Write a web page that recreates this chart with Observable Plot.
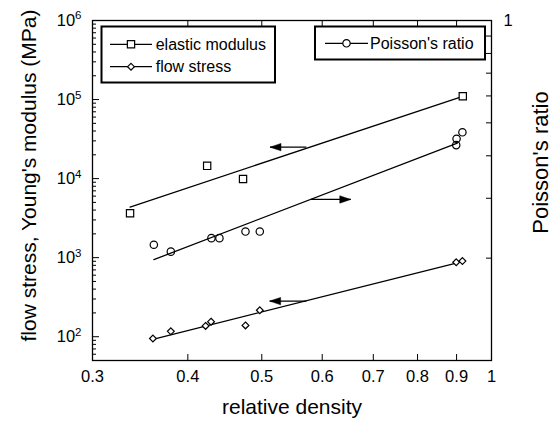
<!DOCTYPE html>
<html><head><meta charset="utf-8">
<script src="https://cdn.jsdelivr.net/npm/d3@7"></script>
<script src="https://cdn.jsdelivr.net/npm/@observablehq/plot@0.6"></script>
<style>body{margin:0;background:#fff} #chart{position:relative;width:553px;height:421px}</style>
</head><body><div id="chart"></div>
<script>
// ---- data ----
const relDensityE = [0.336, 0.424, 0.4725, 0.917];
const elasticModulus = [3650, 14500, 9900, 110000];

const relDensityFlow = [0.360, 0.380, 0.422, 0.429, 0.476, 0.497, 0.899, 0.916];
const flowStress = [95, 117, 137, 155, 139, 216, 875, 905];

const relDensityNu = [0.361, 0.380, 0.4295, 0.440, 0.476, 0.497, 0.899, 0.900, 0.916];
const poissonRatio = [0.219, 0.209, 0.229, 0.229, 0.2395, 0.2395, 0.430, 0.449, 0.469];

// fitted power-law lines (end points)
const fitXE = [0.336, 0.917], fitE = [4370, 110000];
const fitXFlow = [0.360, 0.899], fitFlow = [92.7, 855];
const fitXNu = [0.361, 0.902], fitNu = [0.198, 0.436];

// axis-indicating arrows
const arrowFromX = [0.572, 0.580, 0.572];
const arrowToX = [0.5125, 0.654, 0.512];
const arrowValue = [25000, 0.2976, 282];
const arrowAxis = ["left", "right", "left"];

// ticks
const xTickLabels = [0.3, 0.4, 0.5, 0.6, 0.7, 0.8, 0.9, 1];
const xInnerTicks = [0.4, 0.5, 0.6, 0.7, 0.8, 0.9];
const leftMajor = [1e2, 1e3, 1e4, 1e5, 1e6];
const poissonTicks = [0.1, 0.2, 0.3, 0.4, 0.5, 0.6, 0.7, 0.8, 0.9, 1];
const poissonLabels = [0.1, 1];

const Y_MIN = 50, Y_MAX = 1e6;
const nuToLeft = nu => Math.pow(10, Math.log10(Y_MIN) + (Math.log10(nu) + 1) * Math.log10(Y_MAX / Y_MIN));
const leftToNu = v => Math.pow(10, (Math.log10(v) - Math.log10(Y_MIN)) / Math.log10(Y_MAX / Y_MIN) - 1);

const leftMinor = d3.scaleLog().domain([Y_MIN, Y_MAX]).ticks().filter(d => !leftMajor.includes(d));

// ---- tables ----
const eData = relDensityE.map((x, i) => ({x, y: elasticModulus[i]}));
const fData = relDensityFlow.map((x, i) => ({x, y: flowStress[i]}));
const nData = relDensityNu.map((x, i) => ({x, y: nuToLeft(poissonRatio[i])}));
const eFit = fitXE.map((x, i) => ({x, y: fitE[i]}));
const fFit = fitXFlow.map((x, i) => ({x, y: fitFlow[i]}));
const nFit = fitXNu.map((x, i) => ({x, y: nuToLeft(fitNu[i])}));
const arrows = arrowFromX.map((x1, i) => ({
  x1, x2: arrowToX[i],
  y: arrowAxis[i] === "left" ? arrowValue[i] : nuToLeft(arrowValue[i]),
  dir: arrowToX[i] < x1 ? "left" : "right"
}));

// ---- symbols ----
const diamondSym = {draw(ctx, size) {const r = Math.sqrt(size / Math.PI); ctx.moveTo(0, -r); ctx.lineTo(r, 0); ctx.lineTo(0, r); ctx.lineTo(-r, 0); ctx.closePath();}};
const headLeft = {draw(ctx) {ctx.moveTo(0, 0); ctx.lineTo(11, -3.7); ctx.lineTo(11, 3.7); ctx.closePath();}};
const headRight = {draw(ctx) {ctx.moveTo(0, 0); ctx.lineTo(-11, -3.7); ctx.lineTo(-11, 3.7); ctx.closePath();}};

const FONT = "'Liberation Sans', Arial, Helvetica, sans-serif";

const chart = Plot.plot({
  width: 553, height: 421,
  marginLeft: 92, marginRight: 62, marginTop: 20, marginBottom: 61,
  x: {type: "log", domain: [0.3, 1]},
  y: {type: "log", domain: [Y_MIN, Y_MAX]},
  style: {fontFamily: FONT, fontSize: "16px", color: "black", background: "white", overflow: "visible"},
  marks: [
    // inward ticks
    Plot.tickY(leftMinor, {y: d => d, insetRight: 395, stroke: "black", strokeWidth: 1}),
    Plot.tickY(leftMajor, {y: d => d, insetRight: 392, stroke: "black", strokeWidth: 1}),
    Plot.tickY(poissonTicks.map(nuToLeft), {y: d => d, insetLeft: 394, stroke: "black", strokeWidth: 1}),
    Plot.tickX(xInnerTicks, {x: d => d, insetTop: 334, stroke: "black", strokeWidth: 1}),
    Plot.tickX(xInnerTicks, {x: d => d, insetBottom: 334, stroke: "black", strokeWidth: 1}),
    Plot.frame({stroke: "black", strokeWidth: 1.3}),
    // axes labels
    Plot.axisX({ticks: xTickLabels, tickFormat: d => String(d), tickSize: 0, tickPadding: 10, label: null, fontSize: 16.5}),
    Plot.axisY({ticks: leftMajor, tickFormat: d => "10^" + Math.round(Math.log10(d)), tickSize: 0, tickPadding: 11, label: null, fontSize: 16.5}),
    Plot.axisY({anchor: "right", ticks: poissonLabels.map(nuToLeft), tickFormat: d => String(+leftToNu(d).toFixed(1)), tickSize: 0, tickPadding: 12, label: null, fontSize: 16.5}),
    // axis titles
    Plot.text(["relative density"], {text: d => d, frameAnchor: "bottom", dy: 53, fontSize: 21}),
    Plot.text(["flow stress, Young's modulus (MPa)"], {text: d => d, frameAnchor: "left", textAnchor: "middle", rotate: -90, dx: -63, dy: -15, fontSize: 21}),
    Plot.text(["Poisson's ratio"], {text: d => d, frameAnchor: "right", textAnchor: "middle", rotate: -90, dx: 49, dy: -28, fontSize: 22}),
    // fit lines
    Plot.line(eFit, {x: "x", y: "y", stroke: "black", strokeWidth: 1.3}),
    Plot.line(fFit, {x: "x", y: "y", stroke: "black", strokeWidth: 1.3}),
    Plot.line(nFit, {x: "x", y: "y", stroke: "black", strokeWidth: 1.3}),
    // data points
    Plot.dot(eData, {x: "x", y: "y", symbol: "square", r: 4.1, stroke: "black", fill: "white", strokeWidth: 1.2}),
    Plot.dot(nData, {x: "x", y: "y", symbol: "circle", r: 3.7, stroke: "black", fill: "none", strokeWidth: 1.2}),
    Plot.dot(fData, {x: "x", y: "y", symbol: diamondSym, r: 3.4, stroke: "black", fill: "white", strokeWidth: 1.2}),
    // arrows
    Plot.link(arrows, {x1: "x1", x2: "x2", y1: "y", y2: "y", stroke: "black", strokeWidth: 1.3}),
    Plot.dot(arrows.filter(d => d.dir === "left"), {x: "x2", y: "y", symbol: headLeft, fill: "black", stroke: "black", strokeWidth: 0.5}),
    Plot.dot(arrows.filter(d => d.dir === "right"), {x: "x2", y: "y", symbol: headRight, fill: "black", stroke: "black", strokeWidth: 0.5})
  ]
});

const svg = d3.select(chart);
// superscript exponents on the left axis
svg.selectAll("text").each(function() {
  const t = d3.select(this);
  const s = t.text();
  if (s.startsWith("10^")) {
    const e = s.slice(3);
    t.text("10");
    t.append("tspan").attr("dy", "-0.55em").attr("font-size", "11.5px").text(e);
  }
});

// legends
function legendBox(g, x, y, w, h) {
  g.append("rect").attr("x", x).attr("y", y).attr("width", w).attr("height", h)
    .attr("fill", "white").attr("stroke", "black").attr("stroke-width", 2);
}
function legendEntry(g, x0, x1, y, sym, size, label, tx) {
  g.append("line").attr("x1", x0).attr("x2", x1).attr("y1", y).attr("y2", y).attr("stroke", "black").attr("stroke-width", 1.2);
  g.append("path").attr("transform", `translate(${(x0 + x1) / 2},${y})`)
    .attr("d", d3.symbol(sym, size)()).attr("fill", "white").attr("stroke", "black").attr("stroke-width", 1.2);
  g.append("text").attr("x", tx).attr("y", y).attr("dy", "0.35em").attr("font-size", 16)
    .attr("text-anchor", "start").attr("font-family", FONT).attr("fill", "black").text(label);
}
const lg = svg.append("g").attr("aria-label", "legend");
legendBox(lg, 101.5, 26.5, 173.5, 56);
legendEntry(lg, 110, 152, 44.3, d3.symbolSquare, 4.1 * 4.1 * Math.PI, "elastic modulus", 155.7);
legendEntry(lg, 110, 152, 66.7, diamondSym, 3.4 * 3.4 * Math.PI, "flow stress", 155.7);
legendBox(lg, 315, 26.5, 170, 33);
legendEntry(lg, 325, 368, 43.3, d3.symbolCircle, 3.7 * 3.7 * Math.PI, "Poisson's ratio", 370);

document.getElementById("chart").appendChild(chart);
</script>
</body></html>
